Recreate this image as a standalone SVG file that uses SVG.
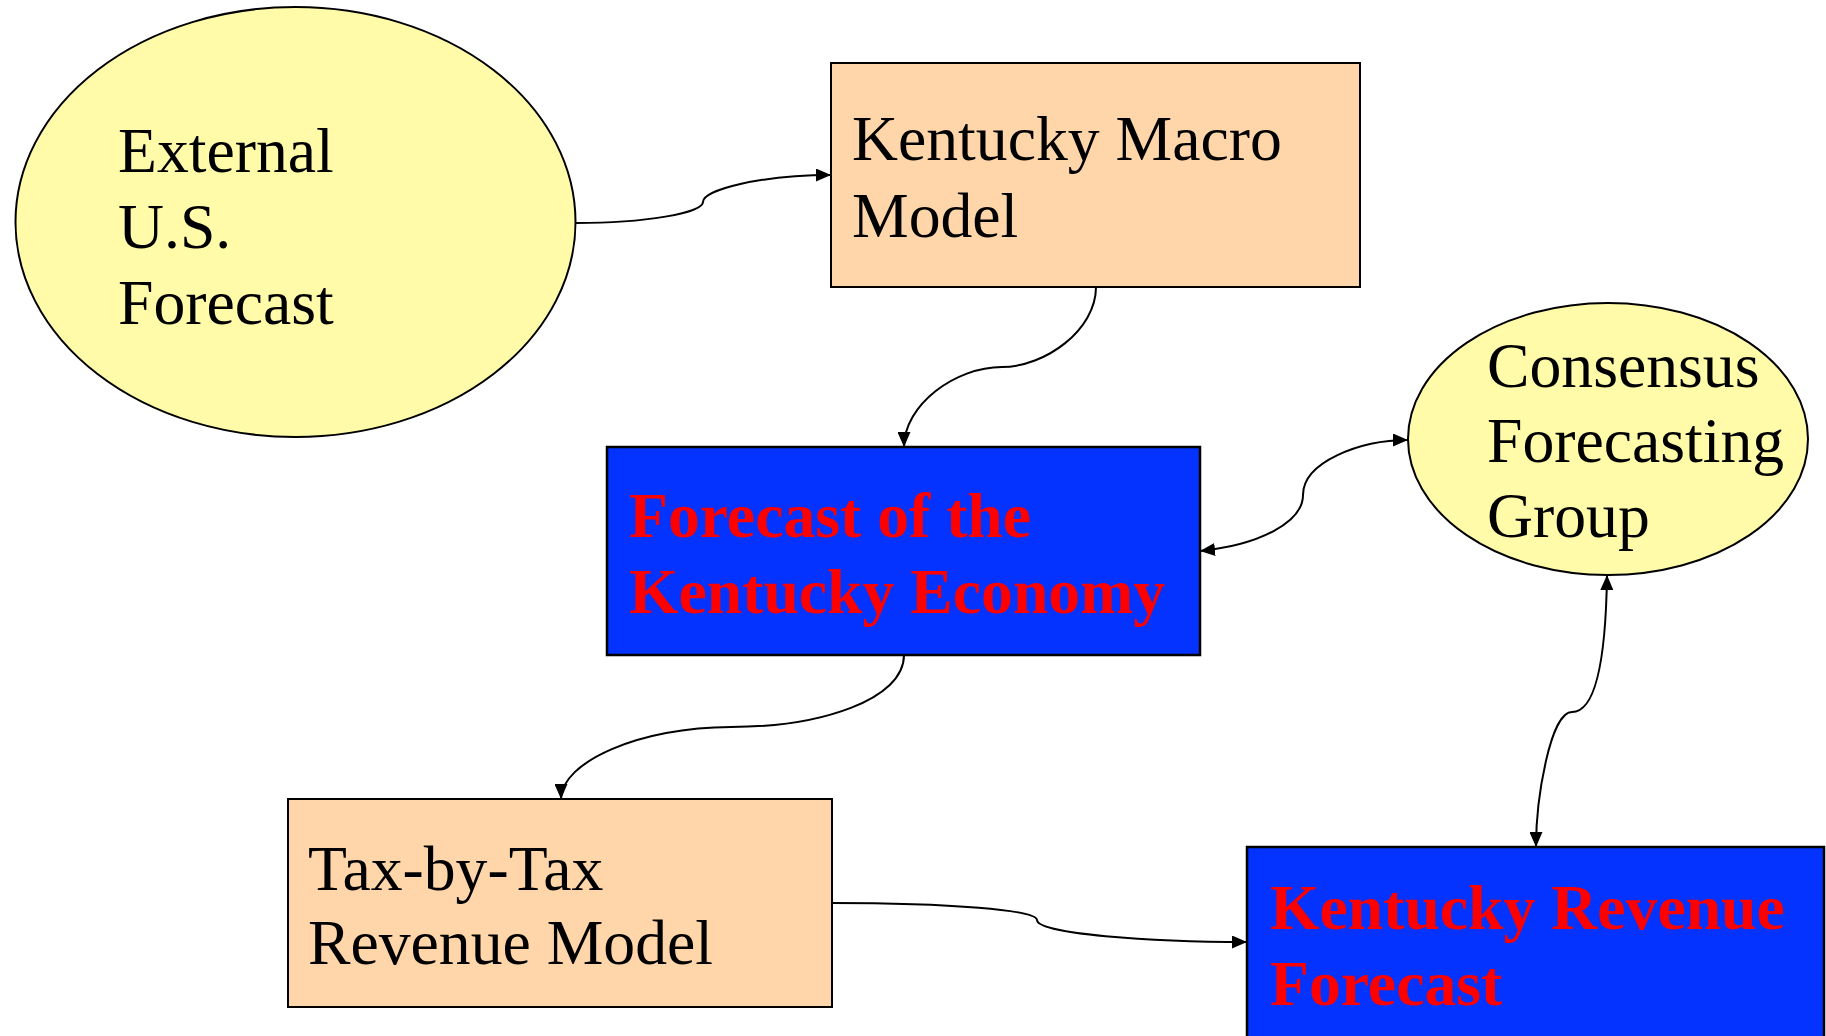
<svg xmlns="http://www.w3.org/2000/svg" width="1826" height="1036" viewBox="0 0 1826 1036">
<style>
.t{font-family:"Liberation Serif","Times New Roman",serif;font-size:63.7px;fill:#000}
.tb{font-family:"Liberation Serif","Times New Roman",serif;font-size:63.7px;font-weight:bold;fill:#FF0000}
.ell{fill:#FFFBA8;stroke:#000;stroke-width:2}
.peach{fill:#FFD6AA;stroke:#000;stroke-width:2}
.blue{fill:#0433FF;stroke:#000;stroke-width:2.5}
.c{fill:none;stroke:#000;stroke-width:2}
</style>
<defs>
<marker id="ah" viewBox="0 0 15 13" refX="15" refY="6.5" markerWidth="15" markerHeight="13" markerUnits="userSpaceOnUse" orient="auto-start-reverse">
<path d="M0,0 L15,6.5 L0,13 z" fill="#000"/>
</marker>
</defs>
<rect width="1826" height="1036" fill="#fff"/>
<g id="external">
<ellipse class="ell" cx="295.5" cy="222" rx="280" ry="215"/>
<text class="t" x="118" y="172">External</text>
<text class="t" x="118" y="248">U.S.</text>
<text class="t" x="118" y="324">Forecast</text>
</g>
<g id="macro">
<rect class="peach" x="831" y="63" width="529" height="224"/>
<text class="t" x="852" y="160">Kentucky Macro</text>
<text class="t" x="852" y="237">Model</text>
</g>
<g id="economy">
<rect class="blue" x="607" y="447" width="593" height="208"/>
<text class="tb" x="629" y="537">Forecast of the</text>
<text class="tb" x="629" y="613">Kentucky Economy</text>
</g>
<g id="consensus">
<ellipse class="ell" cx="1608" cy="439" rx="200" ry="136"/>
<text class="t" x="1487" y="387">Consensus</text>
<text class="t" x="1487" y="462">Forecasting</text>
<text class="t" x="1487" y="537">Group</text>
</g>
<g id="taxmodel">
<rect class="peach" x="288" y="799" width="544" height="208"/>
<text class="t" x="308" y="890">Tax-by-Tax</text>
<text class="t" x="308" y="964">Revenue Model</text>
</g>
<g id="revenue">
<rect class="blue" x="1247" y="847" width="577" height="200"/>
<text class="tb" x="1270" y="929">Kentucky Revenue</text>
<text class="tb" x="1270" y="1005">Forecast</text>
</g>
<g id="connectors">
<path class="c" marker-end="url(#ah)" d="M576,223 C645,223 703,213 703,202 C703,190 760,175 831,175"/>
<path class="c" marker-end="url(#ah)" d="M1096,287 C1096,330 1045,367 1002,367 C955,367 904,405 904,447"/>
<path class="c" marker-start="url(#ah)" marker-end="url(#ah)" d="M1200,551 C1260,545 1303,522 1303,495 C1303,462 1360,440 1408,440"/>
<path class="c" marker-end="url(#ah)" d="M904,655 C904,700 820,727 731,727 C640,727 561,762 561,799"/>
<path class="c" marker-start="url(#ah)" marker-end="url(#ah)" d="M1607,575 C1606,650 1598,712 1572,712 C1550,712 1536,800 1536,847"/>
<path class="c" marker-end="url(#ah)" d="M831,903 C950,903 1037,910 1037,920 C1037,934 1150,942 1247,942"/>
</g>
</svg>
